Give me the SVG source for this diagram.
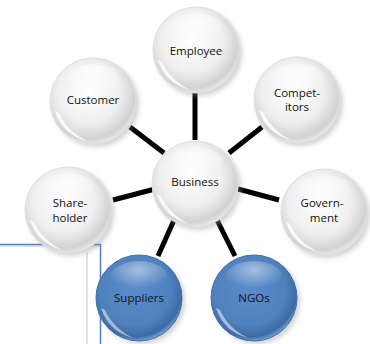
<svg xmlns="http://www.w3.org/2000/svg" width="370" height="344" viewBox="0 0 370 344">
<defs>
<radialGradient id="gw" cx="45%" cy="40%" r="60%">
<stop offset="0" stop-color="#ffffff"/>
<stop offset="0.6" stop-color="#efefef"/>
<stop offset="0.9" stop-color="#d2d2d2"/>
<stop offset="1" stop-color="#e6e6e6"/>
</radialGradient>
<radialGradient id="gb" cx="45%" cy="40%" r="60%">
<stop offset="0" stop-color="#5b8ccc"/>
<stop offset="0.7" stop-color="#4f81bd"/>
<stop offset="0.92" stop-color="#3e6aa3"/>
<stop offset="1" stop-color="#6f9bd3"/>
</radialGradient>
<radialGradient id="hl" cx="50%" cy="30%" r="60%">
<stop offset="0" stop-color="#ffffff" stop-opacity="0.8"/>
<stop offset="1" stop-color="#ffffff" stop-opacity="0"/>
</radialGradient>
<filter id="sh" x="-30%" y="-30%" width="160%" height="160%">
<feGaussianBlur stdDeviation="2.5"/>
</filter>
<g id="gloss">
<ellipse cx="0" cy="-22" rx="28" ry="15" fill="url(#hl)"/>
<path d="M -38 10 Q -30 34 -6 40 Q -26 30 -34 12 Z" fill="#ffffff" opacity="0.85"/>
</g>
</defs>
<style>
.sh{fill:#9a9a9a;opacity:0.45;filter:url(#sh)}
.w{fill:url(#gw);stroke:#e0e0e0;stroke-width:1}
.b{fill:url(#gb);stroke:#3f6ea8;stroke-width:1}
.t{font-family:"Open Sans","Liberation Sans",sans-serif;font-size:11.5px;fill:#111;text-anchor:middle}
.c{stroke:#000;stroke-width:5;stroke-linecap:butt}
</style>
<rect width="370" height="344" fill="#ffffff"/>
<g id="frame" fill="none">
<line x1="87" y1="252" x2="87" y2="344" stroke="#d8d8d8" stroke-width="1.5"/>
<path d="M0 244.5 H100.5 V344" stroke="#4f7fbf" stroke-width="1.5"/>
<path d="M0 246 H99" stroke="#a9c0de" stroke-width="1"/>
</g>
<g id="connectors">
<line class="c" x1="195" y1="92" x2="195" y2="140"/>
<line class="c" x1="130" y1="127" x2="164" y2="153"/>
<line class="c" x1="262" y1="127" x2="229" y2="153"/>
<line class="c" x1="113" y1="200" x2="155" y2="189"/>
<line class="c" x1="238" y1="189" x2="279" y2="200"/>
<line class="c" x1="175" y1="218" x2="158" y2="256"/>
<line class="c" x1="217" y1="220" x2="235" y2="256"/>
</g>
<g id="employee">
<circle class="sh" cx="199" cy="53" r="43"/>
<circle class="w" cx="196" cy="50" r="43"/>
<use href="#gloss" x="196" y="50"/>
<text class="t" x="196" y="55">Employee</text>
</g>
<g id="customer">
<circle class="sh" cx="96" cy="104" r="43"/>
<circle class="w" cx="93" cy="101" r="43"/>
<use href="#gloss" x="93" y="101"/>
<text class="t" x="93" y="104">Customer</text>
</g>
<g id="competitors">
<circle class="sh" cx="300" cy="103" r="43"/>
<circle class="w" cx="297" cy="100" r="43"/>
<use href="#gloss" x="297" y="100"/>
<text class="t" x="297" y="97">Compet-</text>
<text class="t" x="297" y="111">itors</text>
</g>
<g id="business">
<circle class="sh" cx="198" cy="187" r="43"/>
<circle class="w" cx="195" cy="184" r="43"/>
<use href="#gloss" x="195" y="184"/>
<text class="t" x="195" y="186">Business</text>
</g>
<g id="shareholder">
<circle class="sh" cx="71" cy="213" r="43"/>
<circle class="w" cx="68" cy="210" r="43"/>
<use href="#gloss" x="68" y="210"/>
<text class="t" x="70" y="207">Share-</text>
<text class="t" x="70" y="222">holder</text>
</g>
<g id="government">
<circle class="sh" cx="327" cy="215" r="43"/>
<circle class="w" cx="324" cy="212" r="43"/>
<use href="#gloss" x="324" y="212"/>
<text class="t" x="322" y="207">Govern-</text>
<text class="t" x="324" y="222">ment</text>
</g>
<g id="suppliers">
<circle class="sh" cx="142" cy="301" r="43"/>
<circle class="b" cx="139" cy="298" r="43"/>
<use href="#gloss" x="139" y="298" opacity="0.6"/>
<text class="t" x="139" y="302">Suppliers</text>
</g>
<g id="ngos">
<circle class="sh" cx="257" cy="301" r="43"/>
<circle class="b" cx="254" cy="298" r="43"/>
<use href="#gloss" x="254" y="298" opacity="0.6"/>
<text class="t" x="254" y="302">NGOs</text>
</g>
</svg>
